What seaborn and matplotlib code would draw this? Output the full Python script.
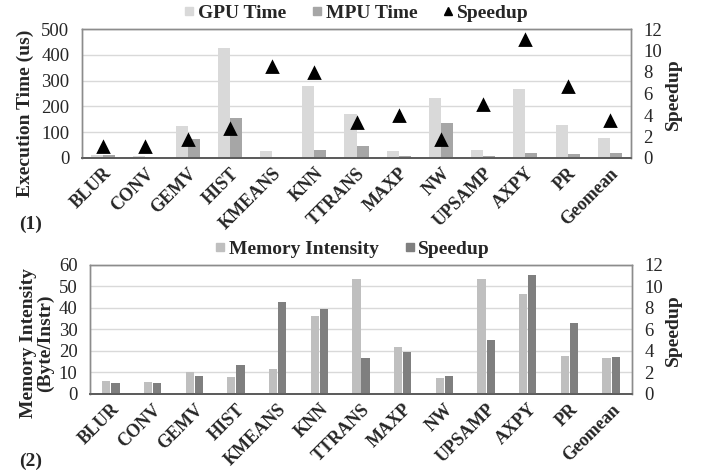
import numpy as np
import pandas as pd
import matplotlib
matplotlib.use("Agg")
import matplotlib.pyplot as plt
from matplotlib.lines import Line2D
import seaborn as sns

# Data
benchmarks = ['BLUR', 'CONV', 'GEMV', 'HIST', 'KMEANS', 'KNN', 'TTRANS',
              'MAXP', 'NW', 'UPSAMP', 'AXPY', 'PR', 'Geomean']
gpu_time = [10, 9, 123, 426, 29, 278, 170, 29, 231, 32, 266, 127, 79]
mpu_time = [10, 5, 75, 156, 3, 32, 48, 6, 135, 6, 21, 17, 21]
speedup = [1.05, 1.05, 1.67, 2.7, 8.5, 7.9, 3.3, 3.9, 1.67, 4.96, 11.0, 6.6, 3.4]
mem_intensity = [6.0, 5.7, 10.2, 7.9, 11.6, 36.3, 53.2, 21.7, 7.4, 53.2, 46.4, 17.5, 16.6]

time_ticks = [0, 100, 200, 300, 400, 500]
mem_ticks = [0, 10, 20, 30, 40, 50, 60]
speedup_ticks = [0, 2, 4, 6, 8, 10, 12]

sns.set_style('white')
plt.rcParams['font.family'] = ['Liberation Serif', 'DejaVu Serif']

GPU_C, MPU_C = '#d9d9d9', '#a6a6a6'
MEM_C, SPD_C = '#bfbfbf', '#7f7f7f'
W, H = 704, 472

fig = plt.figure(figsize=(W / 100, H / 100), dpi=100)


def frame(ax):
    for side in ['left', 'right', 'top']:
        ax.spines[side].set_color('#8c8c8c')
        ax.spines[side].set_linewidth(1.0)
    ax.spines['bottom'].set_color('#595959')
    ax.spines['bottom'].set_linewidth(1.2)


def style_axes(ax, ax_r, left_ticks, right_ticks):
    ax.set_xlim(-0.5, len(benchmarks) - 0.5)
    ax.set_ylim(left_ticks[0], left_ticks[-1])
    ax.set_yticks(left_ticks)
    ax_r.set_ylim(right_ticks[0], right_ticks[-1])
    ax_r.set_yticks(right_ticks)
    ax.set_axisbelow(True)
    ax.yaxis.grid(True, color='#d9d9d9', linewidth=1.0)
    ax.xaxis.grid(False)
    ax.set_xticks(range(len(benchmarks)))
    ax.set_xticklabels(benchmarks, rotation=45, ha='right', rotation_mode='anchor',
                       fontweight='bold', fontsize=13)
    ax.tick_params(axis='x', length=0, pad=5)
    ax.tick_params(axis='y', length=0, pad=9, labelsize=13.5)
    ax_r.tick_params(axis='y', length=0, pad=9, labelsize=13.5)
    ax.set_xlabel('')
    ax.set_ylabel('')
    ax_r.set_ylabel('')
    frame(ax)
    frame(ax_r)


# ---------- (1) execution time ----------
ax1 = fig.add_axes([82 / W, 1 - 158 / H, (631 - 82) / W, (158 - 29) / H])
df_time = pd.DataFrame({
    'benchmark': benchmarks * 2,
    'series': ['GPU Time'] * len(benchmarks) + ['MPU Time'] * len(benchmarks),
    'value': gpu_time + mpu_time,
})
sns.barplot(data=df_time, x='benchmark', y='value', hue='series',
            palette=[GPU_C, MPU_C], width=0.57, saturation=1, linewidth=0,
            legend=False, ax=ax1)
ax2 = ax1.twinx()
sns.pointplot(x=benchmarks, y=speedup, color='black', marker='^', linestyle='none',
              markersize=6.5, errorbar=None, ax=ax2)
style_axes(ax1, ax2, time_ticks, speedup_ticks)

# ---------- (2) memory intensity ----------
ax3 = fig.add_axes([90 / W, 1 - 394 / H, (632 - 90) / W, (394 - 264.5) / H])
order = ['Memory Intensity', 'Speedup']
pal = {'Memory Intensity': MEM_C, 'Speedup': SPD_C}
df_mem = pd.DataFrame({'benchmark': benchmarks, 'series': 'Memory Intensity',
                       'value': mem_intensity})
df_spd = pd.DataFrame({'benchmark': benchmarks, 'series': 'Speedup',
                       'value': speedup})
sns.barplot(data=df_mem, x='benchmark', y='value', hue='series', hue_order=order,
            palette=pal, width=0.44, gap=0.1, dodge=True, saturation=1, linewidth=0,
            legend=False, ax=ax3)
ax4 = ax3.twinx()
sns.barplot(data=df_spd, x='benchmark', y='value', hue='series', hue_order=order,
            palette=pal, width=0.44, gap=0.1, dodge=True, saturation=1, linewidth=0,
            legend=False, ax=ax4)
style_axes(ax3, ax4, mem_ticks, speedup_ticks)

# ---------- axis titles and panel tags ----------
lab = dict(fontsize=14, fontweight='bold', rotation=90, ha='center', va='center')
fig.text(25 / W, 1 - 113 / H, 'Execution Time (us)', **lab)
fig.text(673 / W, 1 - 94 / H, 'Speedup', **lab)
fig.text(37 / W, 1 - 343 / H, 'Memory Intensity\n(Byte/Instr)', linespacing=0.95,
         multialignment='center', **lab)
fig.text(673 / W, 1 - 330 / H, 'Speedup', **lab)
fig.text(31 / W, 1 - 224 / H, '(1)', fontsize=14, fontweight='bold', ha='center', va='center')
fig.text(31 / W, 1 - 461 / H, '(2)', fontsize=14, fontweight='bold', ha='center', va='center')

# ---------- legends ----------
leg_font = {'weight': 'bold', 'size': 14}
h1 = [Line2D([], [], linestyle='none', marker='s', markersize=6, color=GPU_C),
      Line2D([], [], linestyle='none', marker='s', markersize=6, color=MPU_C),
      Line2D([], [], linestyle='none', marker='^', markersize=6, color='black')]
fig.legend(h1, ['GPU Time', 'MPU Time', 'Speedup'], loc='center',
           bbox_to_anchor=(356 / W, 1 - 13 / H), ncol=3, frameon=False, prop=leg_font,
           handlelength=0.6, handletextpad=0.15, columnspacing=1.3, borderpad=0)
h2 = [Line2D([], [], linestyle='none', marker='s', markersize=6, color=MEM_C),
      Line2D([], [], linestyle='none', marker='s', markersize=6, color=SPD_C)]
fig.legend(h2, order, loc='center', bbox_to_anchor=(352 / W, 1 - 249 / H), ncol=2,
           frameon=False, prop=leg_font, handlelength=0.6, handletextpad=0.15,
           columnspacing=1.3, borderpad=0)

fig.savefig('out.png', dpi=100)
